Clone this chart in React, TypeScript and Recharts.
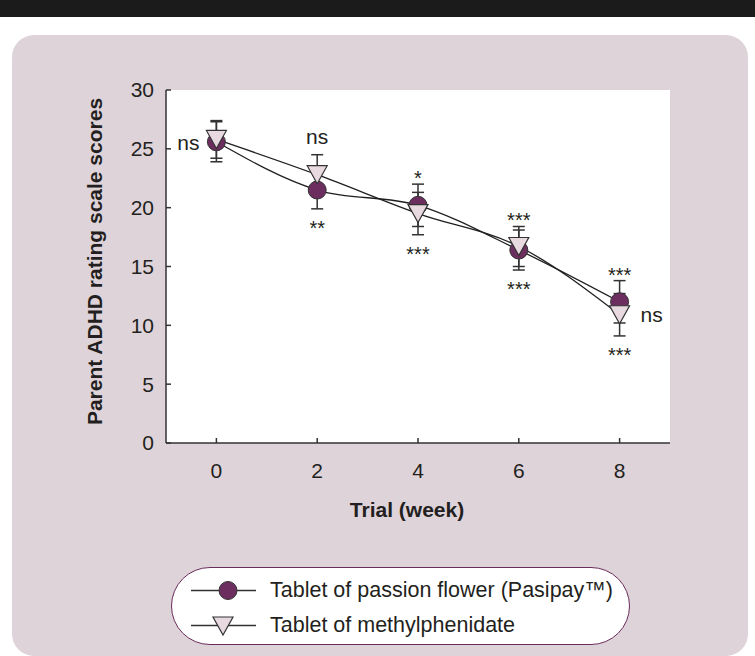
import React from "react";
import {
  LineChart,
  Line,
  XAxis,
  YAxis,
  CartesianGrid,
  ErrorBar,
  Legend,
  LabelList,
} from "recharts";

const FONT = "'Liberation Sans', Arial, Helvetica, sans-serif";
const INK = "#231f20";

const weeks = [0, 2, 4, 6, 8];
const passionFlower = [25.6, 21.5, 20.2, 16.4, 12.0];
const passionFlowerErr = [1.7, 1.6, 1.8, 1.7, 1.8];
const methylphenidate = [25.8, 22.8, 19.5, 16.7, 10.9];
const methylphenidateErr = [1.6, 1.7, 1.8, 1.7, 1.8];

// significance marks
const sigAbove = ["", "ns", "*", "***", "***"];
const sigBelow = ["", "**", "***", "***", "***"];
const sigLeft = ["ns", "", "", "", ""];
const sigRight = ["", "", "", "", "ns"];

const xTicks = [0, 2, 4, 6, 8];
const yTicks = [0, 5, 10, 15, 20, 25, 30];
const seriesNames = [
  "Tablet of passion flower (Pasipay™)",
  "Tablet of methylphenidate",
];

const data = weeks.map((week, i) => ({
  week,
  pf: passionFlower[i],
  pfErr: passionFlowerErr[i],
  mp: methylphenidate[i],
  mpErr: methylphenidateErr[i],
  top: Math.max(passionFlower[i] + passionFlowerErr[i], methylphenidate[i] + methylphenidateErr[i]),
  bottom: Math.min(passionFlower[i] - passionFlowerErr[i], methylphenidate[i] - methylphenidateErr[i]),
}));

const CIRCLE_FILL = "#6c2e5e";
const TRI_FILL = "#e8d8df";
const EDGE = "#333";

const CircleDot = (props: any) => {
  const { cx, cy, index } = props;
  if (cx == null || cy == null) return null;
  return <circle key={`c-${index}`} cx={cx} cy={cy} r={9} fill={CIRCLE_FILL} stroke={EDGE} strokeWidth={1} />;
};

const TriangleDot = (props: any) => {
  const { cx, cy, index } = props;
  if (cx == null || cy == null) return null;
  return (
    <polygon
      key={`t-${index}`}
      points={`${cx - 10},${cy - 9} ${cx + 10},${cy - 9} ${cx},${cy + 9}`}
      fill={TRI_FILL}
      stroke={EDGE}
      strokeWidth={1.2}
    />
  );
};

const sigLabel = (texts: string[], place: "above" | "below" | "left" | "right") => (props: any) => {
  const vb = props.viewBox || {};
  const x = props.x ?? vb.x;
  const y = props.y ?? vb.y;
  const t = texts[props.index];
  if (!t || x == null || y == null) return null;
  const lift = t.startsWith("*") ? 11 : 5;
  let tx = x;
  let ty = y;
  let anchor = "middle";
  if (place === "above") ty = y - (t === "ns" ? 16 : 10) + lift;
  if (place === "below") ty = y + 15 + lift;
  if (place === "left") {
    tx = x - 17;
    ty = y + 8;
    anchor = "end";
  }
  if (place === "right") {
    tx = x + 21;
    ty = y + 7;
    anchor = "start";
  }
  return (
    <text x={tx} y={ty} textAnchor={anchor} fontSize={t === "ns" ? 21 : 20} fill={INK} fontFamily={FONT}>
      {t}
    </text>
  );
};

const LegendBox = () => (
  <div
    style={{
      width: 459,
      height: 78,
      boxSizing: "border-box",
      border: "1.5px solid #6b2d5c",
      borderRadius: 39,
      background: "#fff",
      paddingTop: 5,
      fontFamily: FONT,
    }}
  >
    {seriesNames.map((name, i) => (
      <div key={name} style={{ display: "flex", alignItems: "center", height: 35 }}>
        <svg width={98} height={35} style={{ flex: "none" }}>
          <line x1={19} x2={84} y1={17.5} y2={17.5} stroke={EDGE} strokeWidth={1.3} />
          {i === 0 ? (
            <circle cx={56} cy={17.5} r={9} fill={CIRCLE_FILL} stroke={EDGE} strokeWidth={1} />
          ) : (
            <polygon points="41,9 61,9 51,27" fill={TRI_FILL} stroke={EDGE} strokeWidth={1.2} />
          )}
        </svg>
        <span style={{ fontSize: 21.5, color: INK, whiteSpace: "nowrap" }}>{name}</span>
      </div>
    ))}
  </div>
);

export default function App() {
  return (
    <div style={{ position: "absolute", left: 0, top: 0, width: 755, height: 656, background: "#fff", overflow: "hidden", fontFamily: FONT }}>
      <div style={{ position: "absolute", left: 0, top: 0, width: 755, height: 17, background: "#1b1b1b" }} />
      <div
        style={{
          position: "absolute",
          left: 12,
          top: 35,
          width: 736,
          height: 621,
          borderRadius: 22,
          background: "#dfd3da",
        }}
      />
      <div style={{ position: "absolute", left: 0, top: 0 }}>
        <LineChart width={755} height={656} data={data} margin={{ top: 90, right: 85, bottom: 183, left: 106 }}>
          <CartesianGrid horizontal={false} vertical={false} fill="#fff" />
          <XAxis
            dataKey="week"
            type="number"
            domain={[-1, 9]}
            ticks={xTicks}
            height={30}
            tickSize={-5}
            tickMargin={25}
            axisLine={{ stroke: EDGE, strokeWidth: 1.5 }}
            tickLine={{ stroke: EDGE, strokeWidth: 1.5 }}
            tick={{ fontSize: 21, fill: INK, fontFamily: FONT }}
            label={(p: any) => {
              const vb = p.viewBox;
              return (
                <text x={vb.x + vb.width / 2 - 11} y={vb.y + 73.5} textAnchor="middle" fontSize={21} fontWeight="bold" fill={INK} fontFamily={FONT}>
                  Trial (week)
                </text>
              );
            }}
          />
          <YAxis
            type="number"
            domain={[0, 30]}
            ticks={yTicks}
            width={60}
            tickSize={-5}
            tickMargin={17}
            axisLine={{ stroke: EDGE, strokeWidth: 1.5 }}
            tickLine={{ stroke: EDGE, strokeWidth: 1.5 }}
            tick={{ fontSize: 21, fill: INK, fontFamily: FONT }}
            label={(p: any) => {
              const vb = p.viewBox;
              return (
                <text
                  transform={`translate(${vb.x - 4},${vb.y + vb.height / 2 - 5}) rotate(-90)`}
                  textAnchor="middle"
                  fontSize={21}
                  fontWeight="bold"
                  fill={INK}
                  fontFamily={FONT}
                >
                  Parent ADHD rating scale scores
                </text>
              );
            }}
          />
          <Line
            dataKey="pf"
            name={seriesNames[0]}
            type="monotone"
            stroke="#1f1f1f"
            strokeWidth={1.3}
            dot={CircleDot}
            activeDot={false}
            isAnimationActive={false}
          >
            <LabelList dataKey="pf" content={sigLabel(sigLeft, "left")} />
          </Line>
          <Line
            dataKey="mp"
            name={seriesNames[1]}
            type="monotone"
            stroke="#1f1f1f"
            strokeWidth={1.3}
            dot={TriangleDot}
            activeDot={false}
            isAnimationActive={false}
          >
            <LabelList dataKey="mp" content={sigLabel(sigRight, "right")} />
          </Line>
          <Line dataKey="pf" stroke="none" dot={false} activeDot={false} legendType="none" isAnimationActive={false}>
            <ErrorBar dataKey="pfErr" direction="y" width={6} stroke={EDGE} strokeWidth={1.5} isAnimationActive={false} />
          </Line>
          <Line dataKey="mp" stroke="none" dot={false} activeDot={false} legendType="none" isAnimationActive={false}>
            <ErrorBar dataKey="mpErr" direction="y" width={6} stroke={EDGE} strokeWidth={1.5} isAnimationActive={false} />
          </Line>
          <Line dataKey="top" stroke="none" dot={false} activeDot={false} legendType="none" isAnimationActive={false}>
            <LabelList dataKey="top" content={sigLabel(sigAbove, "above")} />
          </Line>
          <Line dataKey="bottom" stroke="none" dot={false} activeDot={false} legendType="none" isAnimationActive={false}>
            <LabelList dataKey="bottom" content={sigLabel(sigBelow, "below")} />
          </Line>
          <Legend
            layout="vertical"
            align="center"
            verticalAlign="middle"
            content={LegendBox}
            wrapperStyle={{ left: 171, top: 567, width: 459, height: 78 }}
          />
        </LineChart>
      </div>
    </div>
  );
}
